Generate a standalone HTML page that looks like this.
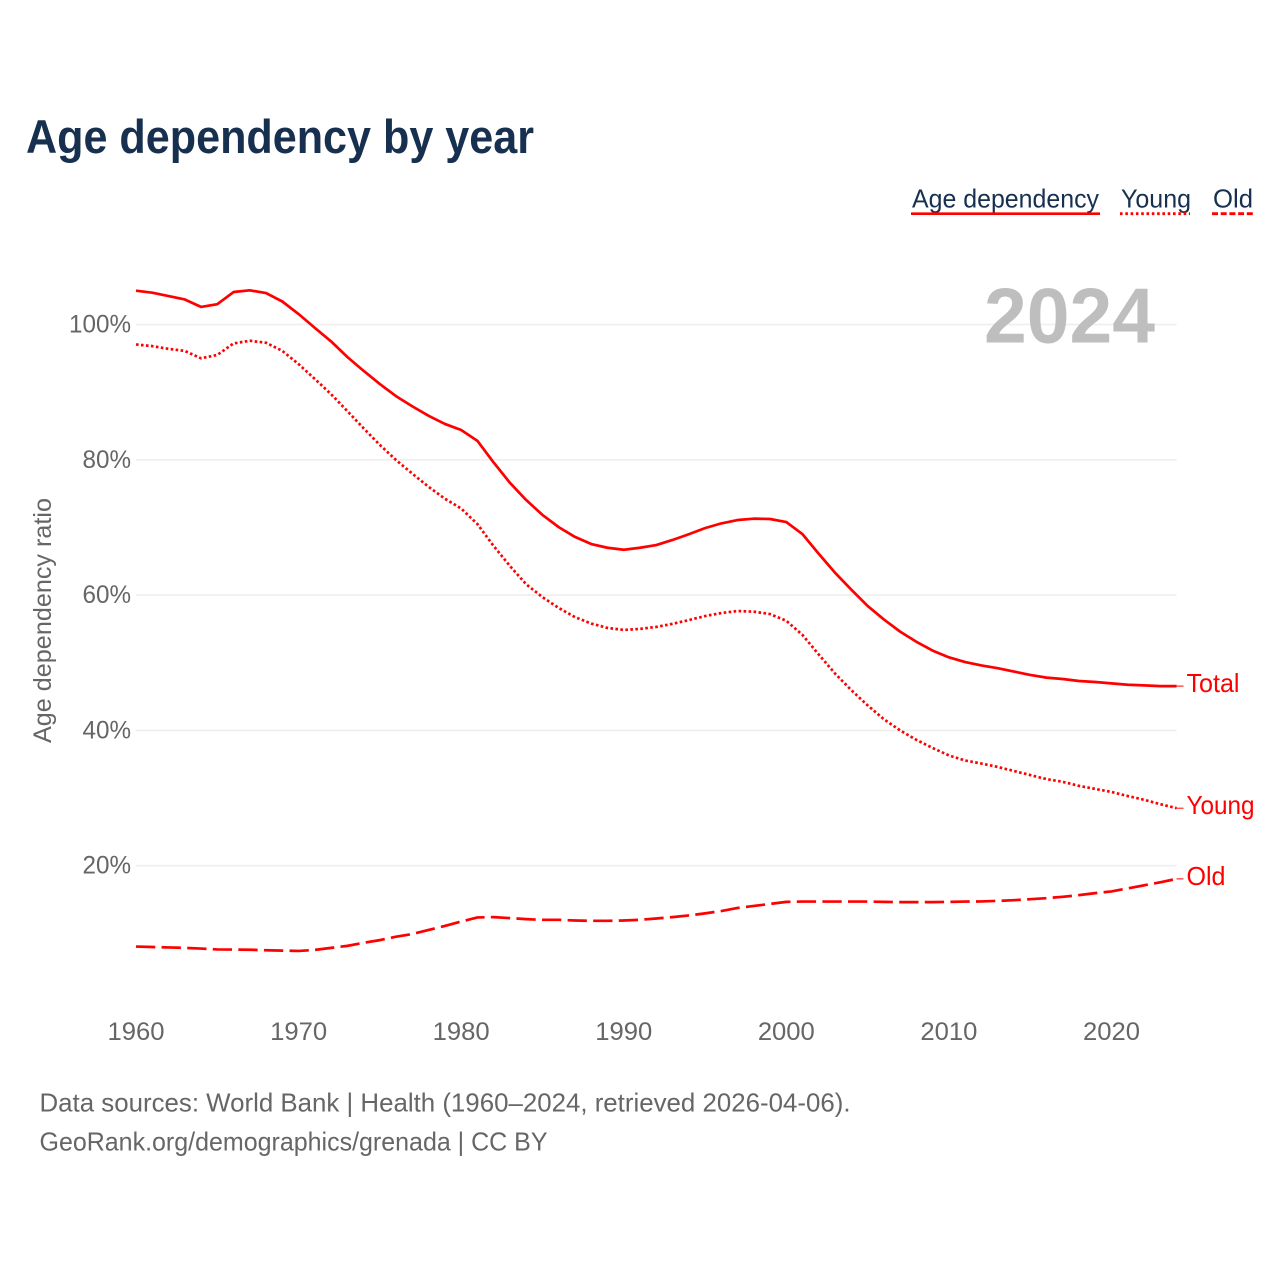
<!DOCTYPE html>
<html lang="en">
<head>
<meta charset="utf-8">
<title>Age dependency by year</title>
<style>
html,body{margin:0;padding:0;background:#fff;}
svg{display:block;font-family:"Liberation Sans",sans-serif;}
</style>
</head>
<body>
<svg id="chart" xmlns="http://www.w3.org/2000/svg" width="1280" height="1280" viewBox="0 0 1280 1280">
  <rect x="0" y="0" width="1280" height="1280" fill="#fff"/>
  <text x="26" y="153" font-size="47" font-weight="700" fill="#17304f" textLength="508" lengthAdjust="spacingAndGlyphs">Age dependency by year</text>

  <g font-size="26" fill="#18304f">
    <g>
      <text x="912" y="207.5" textLength="187" lengthAdjust="spacingAndGlyphs">Age dependency</text>
      <line x1="911" x2="1100" y1="213.7" y2="213.7" stroke="#f00" stroke-width="2.6"/>
    </g>
    <g>
      <text x="1121" y="207.5" textLength="70" lengthAdjust="spacingAndGlyphs">Young</text>
      <line x1="1120" x2="1190" y1="213.7" y2="213.7" stroke="#f00" stroke-width="2.8" stroke-dasharray="2.6 2.7"/>
    </g>
    <g>
      <text x="1213" y="207.5" textLength="40" lengthAdjust="spacingAndGlyphs">Old</text>
      <line x1="1212" x2="1254" y1="213.7" y2="213.7" stroke="#f00" stroke-width="2.8" stroke-dasharray="6 2.7"/>
    </g>
  </g>

  <g id="grid"></g>
  <text x="984" y="342.5" font-size="78" font-weight="700" fill="#bbb" fill-opacity="0.95" textLength="171" lengthAdjust="spacingAndGlyphs">2024</text>
  <g id="yticks" font-size="25" fill="#666"></g>
  <g id="xticks" font-size="25" fill="#666"></g>
  <text transform="translate(51,743) rotate(-90)" font-size="25" fill="#666" textLength="245" lengthAdjust="spacingAndGlyphs">Age dependency ratio</text>
  <g id="series"></g>
  <g id="endlabels" font-size="26" fill="#f00"></g>

  <text x="39.5" y="1111.5" font-size="26" fill="#666" textLength="811" lengthAdjust="spacingAndGlyphs">Data sources: World Bank | Health (1960–2024, retrieved 2026-04-06).</text>
  <text x="39.5" y="1150.5" font-size="26" fill="#666" textLength="508" lengthAdjust="spacingAndGlyphs">GeoRank.org/demographics/grenada | CC BY</text>
</svg>
<script>
const years = [1960,1961,1962,1963,1964,1965,1966,1967,1968,1969,1970,1971,1972,1973,1974,1975,1976,1977,1978,1979,1980,1981,1982,1983,1984,1985,1986,1987,1988,1989,1990,1991,1992,1993,1994,1995,1996,1997,1998,1999,2000,2001,2002,2003,2004,2005,2006,2007,2008,2009,2010,2011,2012,2013,2014,2015,2016,2017,2018,2019,2020,2021,2022,2023,2024];
const totalValues = [105.0,104.7,104.2,103.7,102.6,103.0,104.8,105.05,104.65,103.4,101.55,99.5,97.5,95.2,93.15,91.2,89.4,87.9,86.5,85.3,84.4,82.8,79.6,76.6,74.05,71.85,70.05,68.6,67.55,67.0,66.7,67.0,67.4,68.15,69.0,69.9,70.6,71.1,71.3,71.25,70.8,69.0,66.1,63.3,60.8,58.4,56.4,54.6,53.1,51.8,50.8,50.1,49.6,49.2,48.7,48.2,47.8,47.6,47.3,47.15,46.95,46.75,46.65,46.55,46.55];
const youngValues = [97.05,96.8,96.4,96.1,95.0,95.5,97.2,97.6,97.3,96.1,94.15,91.95,89.7,87.2,84.65,82.2,79.95,77.95,76.0,74.25,72.8,70.5,67.25,64.3,61.6,59.7,58.1,56.75,55.8,55.15,54.85,55.0,55.3,55.75,56.3,56.9,57.35,57.65,57.55,57.2,56.2,54.1,51.2,48.4,45.95,43.7,41.65,40.0,38.6,37.4,36.3,35.55,35.1,34.6,34.0,33.4,32.8,32.4,31.8,31.35,30.9,30.3,29.75,29.1,28.5];
const oldValues = [8.05,7.98,7.92,7.85,7.75,7.62,7.6,7.58,7.5,7.45,7.4,7.55,7.85,8.15,8.6,9.0,9.5,9.9,10.5,11.1,11.75,12.35,12.4,12.25,12.1,12.0,12.0,11.9,11.85,11.85,11.9,12.0,12.2,12.4,12.65,12.95,13.3,13.75,14.05,14.35,14.65,14.7,14.7,14.7,14.7,14.7,14.65,14.62,14.62,14.62,14.65,14.7,14.72,14.8,14.9,15.05,15.2,15.4,15.65,15.95,16.2,16.65,17.1,17.55,18.05];
const yTickValues = [20,40,60,80,100];
const yTickLabels = ["20%","40%","60%","80%","100%"];
const xTickValues = [1960,1970,1980,1990,2000,2010,2020];
const xTickLabels = ["1960","1970","1980","1990","2000","2010","2020"];

const NS = "http://www.w3.org/2000/svg";
function xScale(year){ return 136 + (year - 1960) * (1176.5 - 136) / 64; }
function yScale(v){ return 324.5 + (100 - v) * 6.765; }
function make(tag, attrs, parent){
  const el = document.createElementNS(NS, tag);
  for (const k in attrs) el.setAttribute(k, attrs[k]);
  parent.appendChild(el);
  return el;
}

const gridG = document.getElementById("grid");
const yG = document.getElementById("yticks");
yTickValues.forEach(function(v, i){
  const line = make("line", {x1: 136, x2: 1176.5, y1: yScale(v), y2: yScale(v), stroke: "#eee", "stroke-width": 1.6}, gridG);
  
  
  const label = yTickLabels[i];
  const t = make("text", {x: 131, y: yScale(v) + 8, "text-anchor": "end", textLength: label.length === 4 ? 62 : 48.5, lengthAdjust: "spacingAndGlyphs"}, yG);
  t.textContent = label;
  
  
});

const xG = document.getElementById("xticks");
xTickValues.forEach(function(year, i){
  const t = make("text", {x: xScale(year), y: 1040, "text-anchor": "middle", textLength: 57, lengthAdjust: "spacingAndGlyphs"}, xG);
  t.textContent = xTickLabels[i];
  
  
});

function linePath(values){
  return values.map(function(v, i){
    return (i ? "L" : "M") + xScale(years[i]).toFixed(2) + " " + yScale(v).toFixed(2);
  }).join(" ");
}
const seriesG = document.getElementById("series");
const labelG = document.getElementById("endlabels");

const totalLine = make("path", {d: linePath(totalValues), fill: "none", stroke: "#f00", "stroke-width": 2.7, "stroke-linejoin": "round"}, seriesG);



const youngLine = make("path", {d: linePath(youngValues), fill: "none", stroke: "#f00", "stroke-width": 2.7, "stroke-dasharray": "2.6 2.4", "stroke-linejoin": "round"}, seriesG);



const oldLine = make("path", {d: linePath(oldValues), fill: "none", stroke: "#f00", "stroke-width": 2.7, "stroke-dasharray": "19.3 6.3", "stroke-linejoin": "round"}, seriesG);



function endLabel(text, value, width, labelName, leaderName){
  const y = yScale(value);
  const leader = make("line", {x1: 1176.5, x2: 1183.5, y1: y, y2: y, stroke: "#f00", "stroke-width": 1}, labelG);
  
  
  const t = make("text", {x: 1186.5, y: y + 6, textLength: width, lengthAdjust: "spacingAndGlyphs"}, labelG);
  t.textContent = text;
  
  
}
endLabel("Total", totalValues[totalValues.length - 1], 53, "end-label-total", "leader-total");
endLabel("Young", youngValues[youngValues.length - 1], 68, "end-label-young", "leader-young");
endLabel("Old", oldValues[oldValues.length - 1], 39, "end-label-old", "leader-old");
</script>
</body>
</html>
